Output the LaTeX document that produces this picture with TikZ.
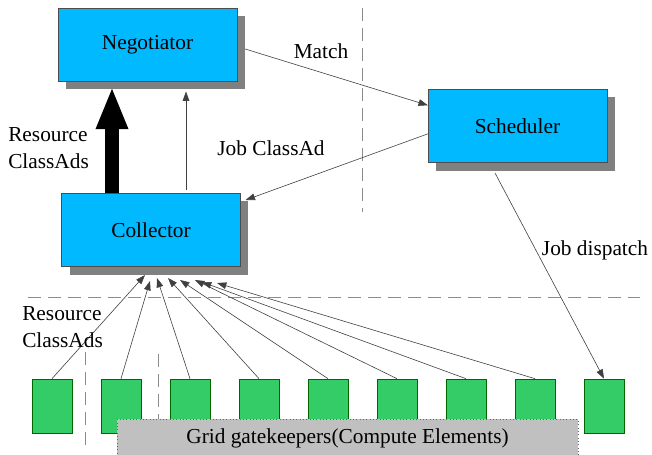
\documentclass[tikz,border=0pt]{standalone}
\usepackage{fontspec}
\setmainfont{Liberation Serif}
\usetikzlibrary{arrows.meta,calc,shadows}

\definecolor{daemonblue}{RGB}{0,185,255}
\definecolor{gkgreen}{RGB}{51,204,102}
\definecolor{lanegray}{RGB}{192,192,192}

\tikzset{
  daemon/.style={draw=black!70,fill=daemonblue,line width=0.5pt,
    minimum width=134pt,minimum height=55pt,
    drop shadow={shadow xshift=6pt,shadow yshift=-6pt,fill=black!50,opacity=1}},
  gk/.style={draw=black!60!green,fill=gkgreen,line width=0.5pt,
    minimum width=30pt,minimum height=40.5pt,inner sep=0pt},
  flow/.style={draw=black!75,line width=0.45pt,-{Triangle[length=7pt,width=5pt]}},
  border/.style={draw=black!45,line width=0.6pt,dash pattern=on 10pt off 5pt},
  lbl/.style={inner sep=0pt,font=\fontsize{16}{20}\selectfont}
}

\begin{document}
\begin{tikzpicture}[x=0.75pt,y=0.75pt,yscale=-1,xscale=1]
    \useasboundingbox (0,0) rectangle (652,454);
    % boundaries
    \draw [border] (362,8) -- (362,212);
    \draw [border] (28,297) -- (640,297);
    \draw [border] (85,352) -- (85,445);
    \draw [border] (158,354) -- (158,445);
    % daemons
    \node [daemon,lbl] (neg) at (147.5,44.5) {Negotiator};
    \node [daemon,lbl] (coll) at (151,230) {Collector};
    \node [daemon,lbl] (sched) at (517.5,126) {Scheduler};
    % gatekeepers
    \foreach \i in {1,...,9}
      \node [gk] (g\i) at ({52+69*(\i-1)},406) {};
    \node [draw=black!60,dotted,fill=lanegray,line width=0.5pt,lbl,
      minimum width=345.75pt,minimum height=28.5pt,anchor=north] (grid) at (347.5,419)
      {Grid gatekeepers(Compute Elements)};
    % resource ads from the gatekeepers
    \foreach \i/\dx/\dy in {1/-6/8,2/-1/14,3/6/11,4/17/11,5/29/13,6/44/13,7/51/15,8/66/16}
      \draw [flow] (g\i.north) -- ($(coll.south)+(\dx,\dy)$);
    % collector to negotiator
    \draw [black,line width=11pt,-{Triangle[length=32pt,width=22pt]}]
      ($(coll.north)+(-39,0)$) -- ($(neg.south)+(-35.5,5)$);
    \draw [flow] ($(coll.north)+(35,-3)$) -- ($(neg.south)+(38.5,10)$);
    \draw [flow] ($(neg.east)+(8,4.5)$) -- (sched.167);
    \draw [flow] (sched.185) -- ($(coll.north east)+(5,7)$);
    \draw [flow] ($(sched.south)+(-22.5,10)$) -- (g9.north);
    % labels
    \node [lbl,align=left,anchor=west] (resup) at (8,148) {Resource\\ClassAds};
    \node [lbl,align=left,anchor=west] (reslow) at (22,327) {Resource\\ClassAds};
    \node [lbl] (match) at (321,51) {Match};
    \node [lbl] (jobad) at (271,148) {Job ClassAd};
    \node [lbl] (disp) at (595,250) {Job dispatch};
\end{tikzpicture}
\end{document}
